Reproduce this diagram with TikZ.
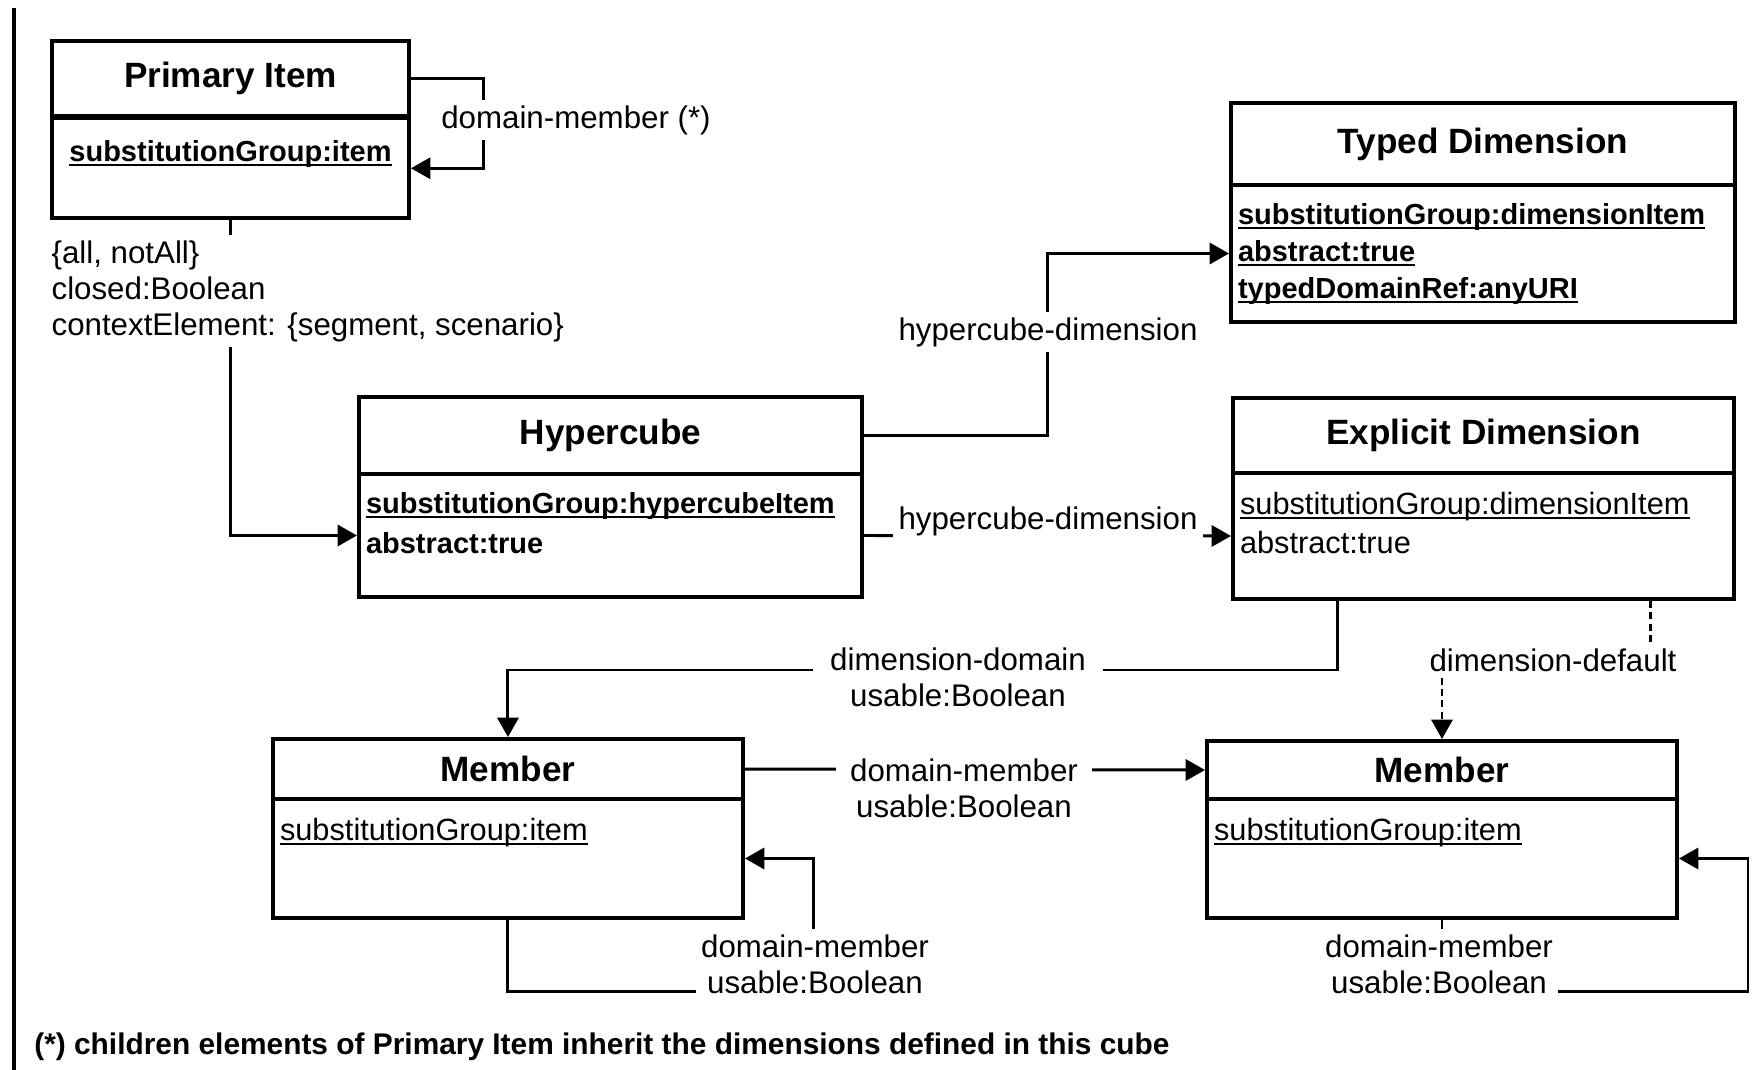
\documentclass[tikz,border=0pt]{standalone}
\usepackage{fontspec}
\setmainfont{Liberation Sans}
\usepackage{tikz}
\usetikzlibrary{arrows.meta,positioning}

\newcommand{\titlefont}{\fontsize{20}{24}\selectfont\bfseries}
\newcommand{\battrfont}{\fontsize{16.5}{21}\selectfont\bfseries}
\newcommand{\attrfont}{\fontsize{17.5}{22.5}\selectfont}
\newcommand{\lblfont}{\fontsize{17.8}{20.5}\selectfont}
\newcommand{\notefont}{\fontsize{17}{20}\selectfont\bfseries}
% underlined attribute, rule just under the baseline
\newcommand{\ulattr}[1]{\setbox0=\hbox{#1}\rlap{\rule[-2.6pt]{\wd0}{1.2pt}}\box0}
\newcommand{\attrbox}[3]{\parbox[t][#2][t]{#1}{\vspace*{2pt}#3}}

\begin{document}
\begin{tikzpicture}[
  x=0.02cm, y=-0.02cm,
  head/.style={draw, line width=2.3pt, anchor=north west, inner sep=0pt, font=\titlefont},
  body/.style={draw, line width=2.3pt, inner xsep=0.14cm, inner ysep=0.2cm},
  conn/.style={line width=1.7pt, -{Triangle[length=11pt, width=12pt]}},
  dconn/.style={conn, dash pattern=on 4pt off 2.5pt},
  lbl/.style={fill=white, inner sep=3pt, font=\lblfont, align=center}
]
  \useasboundingbox (0,0) rectangle (1757,1070);
  \draw[line width=2.3pt] (14,8) -- (14,1070);

  % classes
  \node[head, minimum width=7.14cm, minimum height=1.5cm] (primhead) at (50,39) {Primary Item};
  \node[body, below=-1pt of primhead] (primbody)
    {\attrbox{6.86cm}{1.6cm}{\centering\battrfont\vspace*{2pt}\strut\ulattr{substitutionGroup:item}}};

  \node[head, minimum width=10.08cm, minimum height=1.64cm] (tdhead) at (1229,101) {Typed Dimension};
  \node[body, below=-2.3pt of tdhead] (tdbody)
    {\attrbox{9.8cm}{2.34cm}{\battrfont\strut\ulattr{substitutionGroup:dimensionItem}\\
      \ulattr{abstract:true}\\ \ulattr{typedDomainRef:anyURI}}};

  \node[head, minimum width=10.06cm, minimum height=1.54cm] (hchead) at (357,395) {Hypercube};
  \node[body, below=-2.3pt of hchead] (hcbody)
    {\attrbox{9.78cm}{2.06cm}{\battrfont\strut\ulattr{substitutionGroup:hypercubeItem}\\[2pt]
      abstract:true}};

  \node[head, minimum width=10.02cm, minimum height=1.5cm] (exhead) at (1231,396) {Explicit Dimension};
  \node[body, below=-2.3pt of exhead] (exbody)
    {\attrbox{9.74cm}{2.12cm}{\attrfont\strut\ulattr{substitutionGroup:dimensionItem}\\
      abstract:true}};

  \node[head, minimum width=9.4cm, minimum height=1.2cm] (m1head) at (271,737) {Member};
  \node[body, below=-2.3pt of m1head] (m1body)
    {\attrbox{9.12cm}{1.98cm}{\attrfont\strut\ulattr{substitutionGroup:item}}};

  \node[head, minimum width=9.4cm, minimum height=1.16cm] (m2head) at (1205,739) {Member};
  \node[body, below=-2.3pt of m2head] (m2body)
    {\attrbox{9.12cm}{1.98cm}{\attrfont\strut\ulattr{substitutionGroup:item}}};

  % connectors
  \draw[conn] (primhead.east) -- ++(73,0) |- (primbody.east);
  \draw[conn] (primbody.south) |- (hcbody.west);
  \draw[conn] (hchead.east) -- ++(184,0) |- (tdbody.west);
  \draw[conn] (hcbody.east) -- (exbody.west);
  \draw[conn] ([xshift=-2.93cm]exbody.south) -- ++(0,69) -| (m1head.north);
  \draw[dconn] ([xshift=3.35cm]exbody.south) -- ++(0,63) -| (m2head.north);
  \draw[conn] (m1head.east) -- (m2head.west);
  \draw[conn] (m1body.south) |- ++(306,71) |- (m1body.east);
  \draw[conn] (m2body.south) |- ++(306,71) |- (m2body.east);

  % labels
  \node[lbl] (primloop) at (576,120) {domain-member (*)};
  \node[lbl, anchor=west, align=left] (primcube) at (46,291)
    {\{all, notAll\}\\closed:Boolean\\contextElement: \{segment, scenario\}};
  \node[lbl] (hctd) at (1048,332) {hypercube-dimension};
  \node[lbl] (hcex) at (1048,521) {hypercube-dimension};
  \node[lbl, inner xsep=10pt] (exm1) at (958,677) {dimension-domain\\usable:Boolean};
  \node[lbl] (exm2) at (1553,660) {dimension-default};
  \node[lbl, inner xsep=8pt] (m1m2) at (964,788) {domain-member\\usable:Boolean};
  \node[lbl] (m1loop) at (815,964) {domain-member\\usable:Boolean};
  \node[lbl] (m2loop) at (1439,964) {domain-member\\usable:Boolean};

  \node[anchor=west, inner sep=0pt, font=\notefont] (note) at (34,1047)
    {(*) children elements of Primary Item inherit the dimensions defined in this cube};
\end{tikzpicture}
\end{document}
